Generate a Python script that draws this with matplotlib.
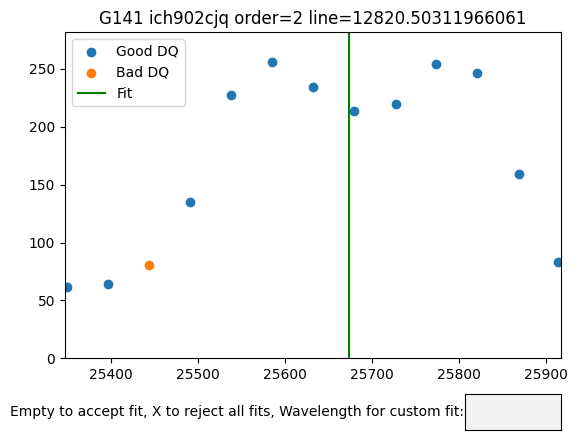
import numpy as np
import matplotlib
matplotlib.use("Agg")
import matplotlib.pyplot as plt
from matplotlib.widgets import TextBox

# pixel positions of the flux samples
good_x = [25349.8, 25396.9, 25491.1, 25537.9, 25585.4, 25632.2, 25679.0,
          25726.8, 25773.9, 25821.0, 25868.2, 25913.8]
good_y = [61.2, 63.8, 135.3, 227.8, 256.0, 234.5, 213.2,
          219.8, 254.3, 246.6, 159.5, 82.8]
bad_x = [25444.0]
bad_y = [81.0]
fit_x = 25673.2

title = "G141 ich902cjq order=2 line=12820.50311966061"
prompt = "Empty to accept fit, X to reject all fits, Wavelength for custom fit:"

fig = plt.figure(figsize=(5.77, 4.45), dpi=100)
ax = fig.add_axes([0.1127, 0.1948, 0.8596, 0.7326])

ax.scatter(good_x, good_y, label="Good DQ")
ax.scatter(bad_x, bad_y, label="Bad DQ")
ax.axvline(fit_x, color="green", label="Fit")

ax.set_xlim(25347, 25917)
ax.set_ylim(0, 1.1 * max(good_y + bad_y))
ax.set_title(title)
ax.legend(loc="upper left")

box_ax = fig.add_axes([0.8059, 0.0337, 0.1664, 0.0802])
text_box = TextBox(box_ax, prompt, initial="")

fig.savefig("out.png", dpi=100)
